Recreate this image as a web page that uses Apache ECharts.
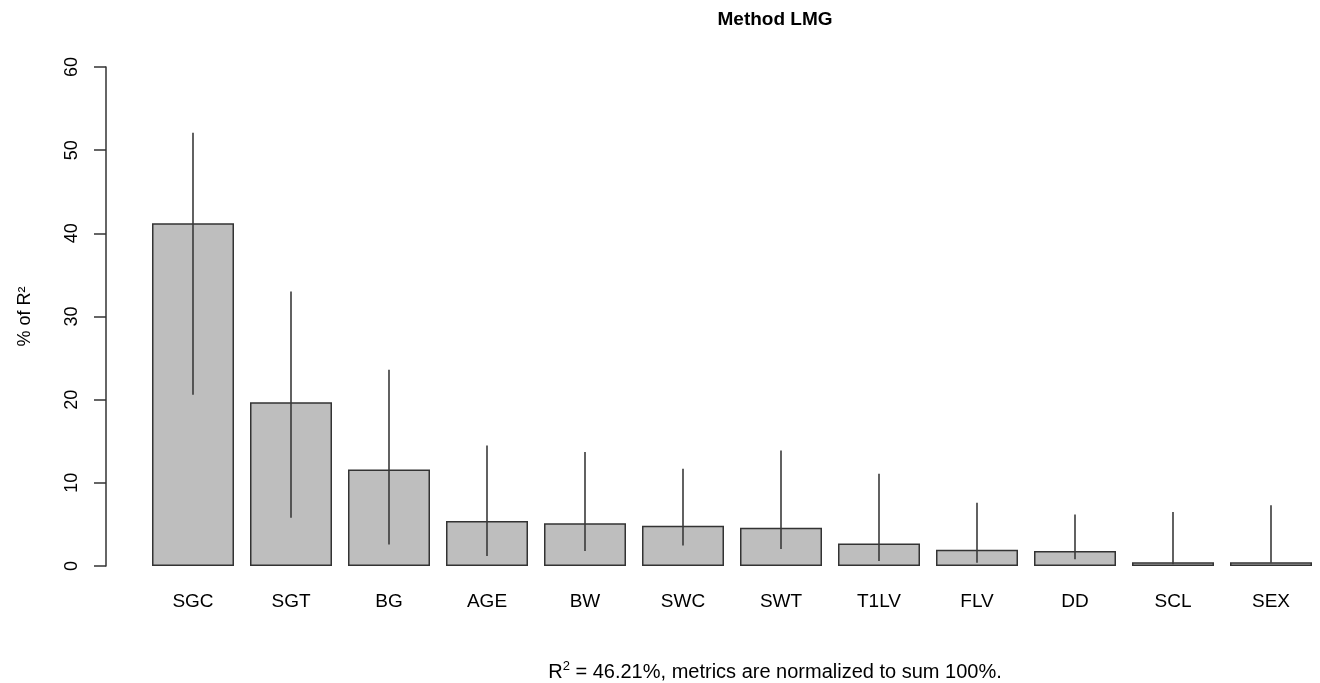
<!DOCTYPE html>
<html>
<head>
<meta charset="utf-8">
<script src="https://cdn.jsdelivr.net/npm/echarts@6/dist/echarts.min.js"></script>
<style>
html,body{margin:0;padding:0;background:#fff;}
#chart{width:1320px;height:683px;}
</style>
</head>
<body>
<div id="chart"></div>
<script>
const categories = ['SGC','SGT','BG','AGE','BW','SWC','SWT','T1LV','FLV','DD','SCL','SEX'];
const shares = [41.2, 19.7, 11.6, 5.4, 5.15, 4.85, 4.6, 2.7, 1.95, 1.8, 0.45, 0.45];
const lowerCI = [20.6, 5.8, 2.6, 1.2, 1.8, 2.45, 2.05, 0.6, 0.4, 0.8, 0.2, 0.4];
const upperCI = [52.1, 33.0, 23.6, 14.5, 13.7, 11.7, 13.9, 11.1, 7.6, 6.2, 6.5, 7.3];
const yTicks = [0, 10, 20, 30, 40, 50, 60];

const FONT = '"Liberation Sans", Arial, Helvetica, sans-serif';
const chart = echarts.init(document.getElementById('chart'), null, {renderer: 'canvas'});

const errData = categories.map((c, i) => [i, lowerCI[i], upperCI[i]]);

chart.setOption({
  animation: false,
  backgroundColor: '#ffffff',
  grid: {left: 144, right: 0, top: 67, bottom: 117, containLabel: false},
  xAxis: {
    type: 'category',
    data: categories,
    boundaryGap: true,
    axisLine: {show: false},
    axisTick: {show: false},
    splitLine: {show: false},
    axisLabel: {color: '#000', fontFamily: FONT, fontSize: 19, margin: 26, interval: 0}
  },
  yAxis: {
    type: 'value',
    min: yTicks[0],
    max: yTicks[yTicks.length - 1],
    interval: 10,
    offset: 38,
    name: '% of R²',
    nameLocation: 'middle',
    nameRotate: 90,
    nameGap: 72,
    nameTextStyle: {color: '#000', fontFamily: FONT, fontSize: 18},
    axisLine: {show: true, lineStyle: {color: '#333', width: 1.5}},
    axisTick: {show: true, length: 12, lineStyle: {color: '#333', width: 1.5}},
    splitLine: {show: false},
    axisLabel: {color: '#000', fontFamily: FONT, fontSize: 18, rotate: 90, margin: 25}
  },
  series: [
    {
      type: 'bar',
      data: shares,
      barWidth: 82,
      itemStyle: {color: '#bebebe', borderColor: '#333', borderWidth: 1.5},
      z: 2
    },
    {
      type: 'custom',
      data: errData,
      z: 3,
      renderItem: function (params, api) {
        const idx = api.value(0);
        const p1 = api.coord([idx, api.value(1)]);
        const p2 = api.coord([idx, api.value(2)]);
        return {
          type: 'line',
          shape: {x1: p1[0], y1: p1[1], x2: p2[0], y2: p2[1]},
          style: {stroke: '#3a3a3a', lineWidth: 1.6}
        };
      }
    }
  ],
  graphic: [
    {
      type: 'text',
      x: 775, y: 20,
      style: {
        text: 'Method LMG',
        font: 'bold 19px ' + FONT,
        fill: '#000',
        align: 'center',
        verticalAlign: 'middle'
      }
    },
    {
      type: 'text',
      x: 775, y: 671,
      style: {
        text: '{a|R}{s|2}{a| = 46.21%, metrics are normalized to sum 100%.}',
        align: 'center',
        verticalAlign: 'middle',
        rich: {
          a: {fontFamily: FONT, fontSize: 20, lineHeight: 22, fill: '#000', verticalAlign: 'bottom'},
          s: {fontFamily: FONT, fontSize: 13, lineHeight: 12, fill: '#000', verticalAlign: 'top'}
        }
      }
    }
  ]
});
</script>
</body>
</html>
